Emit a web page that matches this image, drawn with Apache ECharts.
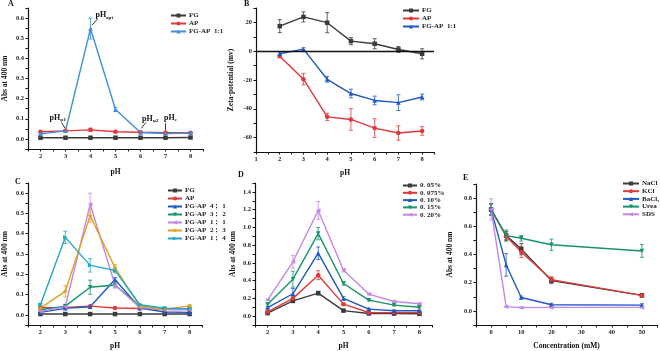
<!DOCTYPE html>
<html>
<head>
<meta charset="utf-8">
<script src="https://cdn.jsdelivr.net/npm/echarts@6/dist/echarts.min.js"></script>
<style>html,body{margin:0;padding:0;background:#fff}#c{width:660px;height:351px}</style>
</head>
<body>
<div id="c"></div>
<script>
// ---------- data ----------
const pH = [2, 3, 4, 5, 6, 7, 8];

// Panel A
const A_FG       = [0.006, 0.006, 0.006, 0.006, 0.006, 0.006, 0.007];
const A_FG_err   = [0.002, 0.002, 0.002, 0.002, 0.002, 0.002, 0.002];
const A_AP       = [0.036, 0.040, 0.045, 0.036, 0.033, 0.031, 0.031];
const A_AP_err   = [0.003, 0.003, 0.008, 0.003, 0.002, 0.002, 0.002];
const A_FGAP     = [0.025, 0.040, 0.548, 0.146, 0.032, 0.027, 0.029];
const A_FGAP_err = [0.004, 0.004, 0.052, 0.010, 0.003, 0.003, 0.003];

// Panel B
const B_FG       = [17.4, 23.8, 19.8, 7.0, 5.2, 1.2, -1.8];
const B_FG_err   = [4.5, 3.5, 7.0, 2.5, 3.5, 2.0, 3.5];
const B_AP       = [-3.5, -19.4, -45.6, -47.4, -53.4, -56.8, -55.4];
const B_AP_err   = [1.0, 4.0, 2.5, 7.5, 6.5, 5.0, 3.0];
const B_FGAP     = [-1.8, 1.4, -19.5, -29.4, -34.2, -35.7, -31.8];
const B_FGAP_err = [1.0, 1.0, 2.0, 3.0, 3.0, 5.5, 2.0];

// Panel C
const C_FG     = [0.004, 0.004, 0.004, 0.004, 0.004, 0.004, 0.004];
const C_AP     = [0.035, 0.037, 0.043, 0.034, 0.031, 0.029, 0.028];
const C_41     = [0.012, 0.032, 0.040, 0.174, 0.034, 0.014, 0.012];
const C_32     = [0.025, 0.043, 0.136, 0.147, 0.042, 0.030, 0.030];
const C_11     = [0.017, 0.040, 0.545, 0.147, 0.036, 0.025, 0.025];
const C_23     = [0.033, 0.116, 0.489, 0.233, 0.042, 0.027, 0.044];
const C_14     = [0.050, 0.382, 0.244, 0.219, 0.050, 0.033, 0.030];
const C_41_err = [0.003, 0.004, 0.006, 0.010, 0.003, 0.003, 0.003];
const C_32_err = [0.004, 0.006, 0.035, 0.010, 0.004, 0.003, 0.003];
const C_11_err = [0.003, 0.006, 0.055, 0.015, 0.004, 0.003, 0.003];
const C_23_err = [0.004, 0.028, 0.032, 0.015, 0.004, 0.003, 0.006];
const C_14_err = [0.006, 0.030, 0.033, 0.012, 0.005, 0.003, 0.003];

// Panel D
const D_005  = [0.034, 0.172, 0.259, 0.062, 0.030, 0.028, 0.026];
const D_0075 = [0.049, 0.200, 0.461, 0.135, 0.041, 0.040, 0.040];
const D_010  = [0.097, 0.252, 0.709, 0.200, 0.079, 0.060, 0.060];
const D_015  = [0.135, 0.416, 0.930, 0.368, 0.180, 0.124, 0.100];
const D_020  = [0.184, 0.612, 1.190, 0.518, 0.248, 0.165, 0.140];
const D_005_err  = [0.01, 0.02, 0.02, 0.01, 0.01, 0.01, 0.01];
const D_0075_err = [0.01, 0.02, 0.05, 0.01, 0.01, 0.01, 0.01];
const D_010_err  = [0.01, 0.06, 0.07, 0.02, 0.01, 0.01, 0.01];
const D_015_err  = [0.01, 0.09, 0.07, 0.02, 0.01, 0.01, 0.01];
const D_020_err  = [0.01, 0.07, 0.10, 0.02, 0.01, 0.01, 0.01];

// Panel E
const conc = [0, 5, 10, 20, 50];
const E_NaCl  = [0.719, 0.534, 0.438, 0.215, 0.110];
const E_KCl   = [0.720, 0.530, 0.418, 0.222, 0.110];
const E_BaCl2 = [0.720, 0.326, 0.095, 0.044, 0.041];
const E_Urea  = [0.720, 0.534, 0.515, 0.469, 0.425];
const E_SDS   = [0.720, 0.030, 0.023, 0.025, 0.025];
const E_NaCl_err  = [0.04, 0.03, 0.04, 0.02, 0.01];
const E_KCl_err   = [0.04, 0.03, 0.04, 0.02, 0.01];
const E_BaCl2_err = [0.04, 0.08, 0.01, 0.01, 0.01];
const E_Urea_err  = [0.04, 0.04, 0.02, 0.04, 0.045];
const E_SDS_err   = [0.075, 0.005, 0.005, 0.005, 0.005];

const legendA = ['FG', 'AP', 'FG-AP  1:1'];
const legendB = ['FG', 'AP', 'FG-AP  1:1'];
const legendC = ['FG', 'AP', 'FG-AP  4： 1', 'FG-AP  3： 2', 'FG-AP  1： 1', 'FG-AP  2： 3', 'FG-AP  1： 4'];
const legendD = ['0. 05%', '0. 075%', '0. 10%', '0. 15%', '0. 20%'];
const legendE = ['NaCl', 'KCl', 'BaCl₂', 'Urea', 'SDS'];

// ---------- styles ----------
const serif = "'Liberation Serif', 'DejaVu Serif', serif";
const COL = {
  gray: '#3b3b3b', red: '#e0393c', lblue: '#3d8fe0', blue: '#1f58c4',
  green: '#16946a', violet: '#c487e6', orange: '#e3a21f', cyan: '#1fa9c0'
};
const SYM = {
  sq: 'rect', ci: 'circle', tri: 'triangle',
  dtri: 'path://M0,0 L10,0 L5,10 Z',
  ltri: 'path://M10,0 L10,10 L0,5 Z',
  rtri: 'path://M0,0 L0,10 L10,5 Z',
  dia: 'diamond'
};

const series = [];
function addLine(panel, gi, label, xs, ys, errs, color, symbol, extra) {
  const name = panel + '|' + label;
  const s = {
    name, type: 'line', xAxisIndex: gi, yAxisIndex: gi,
    data: xs.map((x, i) => [x, ys[i]]),
    symbol, symbolSize: 4.5, showSymbol: true,
    lineStyle: { color, width: 1.4 },
    itemStyle: { color },
    z: 3
  };
  if (extra) Object.assign(s, extra);
  series.push(s);
  if (errs) {
    series.push({
      name: panel + '|err|' + label, type: 'custom', xAxisIndex: gi, yAxisIndex: gi,
      data: xs.map((x, i) => [x, ys[i] - errs[i], ys[i] + errs[i]]),
      itemStyle: { color }, z: 2, silent: true,
      renderItem: function (params, api) {
        const x = api.value(0);
        const p1 = api.coord([x, api.value(1)]);
        const p2 = api.coord([x, api.value(2)]);
        const st = { stroke: color, lineWidth: 0.8 };
        const c = 2;
        return { type: 'group', children: [
          { type: 'line', shape: { x1: p1[0], y1: p1[1], x2: p2[0], y2: p2[1] }, style: st },
          { type: 'line', shape: { x1: p1[0] - c, y1: p1[1], x2: p1[0] + c, y2: p1[1] }, style: st },
          { type: 'line', shape: { x1: p2[0] - c, y1: p2[1], x2: p2[0] + c, y2: p2[1] }, style: st }
        ]};
      }
    });
  }
}

// Annotations for panel A
const richSub = {
  a: { fontSize: 8, fontWeight: 'bold', fontFamily: serif, color: '#111', lineHeight: 9 },
  s: { fontSize: 5, fontWeight: 'bold', fontFamily: serif, color: '#111', lineHeight: 9, verticalAlign: 'bottom', padding: [4, 0, 0, 0] }
};
function ann(x, y, sub) {
  return { coord: [x, y], value: sub, label: { formatter: '{a|pH}{s|' + sub + '}' } };
}
const annA = {
  markPoint: {
    silent: true, symbol: 'circle', symbolSize: 1, itemStyle: { color: 'transparent' },
    label: { show: true, position: 'inside', rich: richSub },
    data: [ann(4.55, 0.614, 'opt'), ann(2.69, 0.104, 'φ1'), ann(6.39, 0.100, 'φ2'), ann(7.2, 0.104, 'c')]
  },
  markLine: {
    silent: true, symbol: ['none', 'arrow'], symbolSize: [0, 4],
    lineStyle: { color: '#000', width: 0.8, type: 'solid' }, label: { show: false },
    data: [
      [{ coord: [4.28, 0.595] }, { coord: [4.06, 0.565] }],
      [{ coord: [2.84, 0.082] }, { coord: [2.98, 0.053] }],
      [{ coord: [6.22, 0.082] }, { coord: [6.03, 0.053] }],
      [{ coord: [7.0, 0.078] }, { coord: [7.0, 0.042] }]
    ]
  }
};

addLine('A', 0, legendA[0], pH, A_FG, A_FG_err, COL.gray, SYM.sq);
addLine('A', 0, legendA[1], pH, A_AP, A_AP_err, COL.red, SYM.ci);
addLine('A', 0, legendA[2], pH, A_FGAP, A_FGAP_err, COL.lblue, SYM.tri, annA);

addLine('B', 1, legendB[0], pH, B_FG, B_FG_err, COL.gray, SYM.sq, {
  markLine: { silent: true, symbol: ['none', 'none'], label: { show: false },
    lineStyle: { color: '#111', width: 1.3, type: 'solid' }, data: [{ yAxis: 0 }] }
});
addLine('B', 1, legendB[1], pH, B_AP, B_AP_err, COL.red, SYM.ci);
addLine('B', 1, legendB[2], pH, B_FGAP, B_FGAP_err, COL.blue, SYM.tri);

addLine('C', 2, legendC[0], pH, C_FG, null, COL.gray, SYM.sq);
addLine('C', 2, legendC[1], pH, C_AP, null, COL.red, SYM.ci);
addLine('C', 2, legendC[2], pH, C_41, C_41_err, COL.blue, SYM.tri);
addLine('C', 2, legendC[3], pH, C_32, C_32_err, COL.green, SYM.dtri);
addLine('C', 2, legendC[4], pH, C_11, C_11_err, COL.violet, SYM.ltri);
addLine('C', 2, legendC[5], pH, C_23, C_23_err, COL.orange, SYM.dia);
addLine('C', 2, legendC[6], pH, C_14, C_14_err, COL.cyan, SYM.rtri);

addLine('D', 3, legendD[0], pH, D_005, D_005_err, COL.gray, SYM.sq);
addLine('D', 3, legendD[1], pH, D_0075, D_0075_err, COL.red, SYM.ci);
addLine('D', 3, legendD[2], pH, D_010, D_010_err, COL.blue, SYM.tri);
addLine('D', 3, legendD[3], pH, D_015, D_015_err, COL.green, SYM.dtri);
addLine('D', 3, legendD[4], pH, D_020, D_020_err, COL.violet, SYM.ltri);

addLine('E', 4, legendE[0], conc, E_NaCl, E_NaCl_err, COL.gray, SYM.sq);
addLine('E', 4, legendE[1], conc, E_KCl, E_KCl_err, COL.red, SYM.ci);
addLine('E', 4, legendE[2], conc, E_BaCl2, E_BaCl2_err, COL.blue, SYM.tri);
addLine('E', 4, legendE[3], conc, E_Urea, E_Urea_err, COL.green, SYM.dtri);
addLine('E', 4, legendE[4], conc, E_SDS, E_SDS_err, COL.violet, SYM.ltri);

// ---------- axes ----------
const tickFont = { fontSize: 6.5, fontWeight: 'bold', fontFamily: serif, color: '#222' };
const nameFont = { fontSize: 7.5, fontWeight: 'bold', fontFamily: serif, color: '#111' };
function axis(gi, o) {
  return Object.assign({
    gridIndex: gi, type: 'value', splitLine: { show: false },
    axisLine: { show: true, onZero: false, lineStyle: { color: '#111', width: 1.2 } },
    axisTick: { show: true, length: 2.5, lineStyle: { color: '#111', width: 1 } },
    nameLocation: 'middle', nameTextStyle: nameFont
  }, o);
}
const pHLabel = v => (Number.isInteger(v) && v >= 1 && v <= 8) ? String(v) : '';
function decLabel(step, lo, hi) {
  return v => {
    const k = Math.round(v * 100);
    const st = Math.round(step * 100);
    return (k % st === 0 && k >= lo * 100 - 0.5 && k <= hi * 100 + 0.5) ? (k / 100).toFixed(1) : '';
  };
}

const xAxis = [
  axis(0, { min: 1.5, max: 8.5, interval: 0.5, name: 'pH', nameGap: 19, axisLabel: Object.assign({ margin: 4, formatter: pHLabel }, tickFont) }),
  axis(1, { min: 1, max: 8.5, interval: 0.5, name: 'pH', nameGap: 17, axisLabel: Object.assign({ margin: 4, formatter: pHLabel }, tickFont) }),
  axis(2, { min: 1.5, max: 8.5, interval: 0.5, name: 'pH', nameGap: 17, axisLabel: Object.assign({ margin: 4, formatter: pHLabel }, tickFont) }),
  axis(3, { min: 1.5, max: 8.5, interval: 0.5, name: 'pH', nameGap: 17, axisLabel: Object.assign({ margin: 4, formatter: pHLabel }, tickFont) }),
  axis(4, { min: -5, max: 55, interval: 5, name: 'Concentration (mM)', nameGap: 17,
    axisLabel: Object.assign({ margin: 4, formatter: v => (v % 10 === 0 && v >= 0 && v <= 50) ? String(v) : '' }, tickFont) })
];
const yAxis = [
  axis(0, { min: -0.05, max: 0.65, interval: 0.05, name: 'Abs at 400 nm', nameGap: 19, axisLabel: Object.assign({ margin: 4, formatter: decLabel(0.1, 0, 0.6) }, tickFont) }),
  axis(1, { min: -70, max: 30, interval: 10, name: 'Zeta-potential (mv)', nameGap: 21,
    axisLabel: Object.assign({ margin: 4, formatter: v => (v % 20 === 0 && v >= -60 && v <= 20) ? String(v) : '' }, tickFont) }),
  axis(2, { min: -0.05, max: 0.65, interval: 0.05, name: 'Abs at 400 nm', nameGap: 19, axisLabel: Object.assign({ margin: 4, formatter: decLabel(0.1, 0, 0.6) }, tickFont) }),
  axis(3, { min: -0.1, max: 1.5, interval: 0.1, name: 'Abs at 400 nm', nameGap: 18, axisLabel: Object.assign({ margin: 4, formatter: decLabel(0.2, 0, 1.4) }, tickFont) }),
  axis(4, { min: -0.1, max: 0.9, interval: 0.1, name: 'Abs at 400 nm', nameGap: 22, axisLabel: Object.assign({ margin: 4, formatter: decLabel(0.2, 0, 0.8) }, tickFont) })
];

const grid = [
  { left: 27, top: 8, width: 176, height: 141 },
  { left: 256, top: 8, width: 178, height: 144 },
  { left: 27, top: 183, width: 175, height: 143 },
  { left: 255, top: 183, width: 177, height: 144 },
  { left: 476, top: 184, width: 181, height: 144 }
];

function legend(panel, names, left, top, gap, iw) {
  return {
    data: names.map(n => panel + '|' + n), left, top, orient: 'vertical', padding: 0,
    itemWidth: iw || 16, itemHeight: 5, itemGap: gap, selectedMode: false,
    formatter: n => n.split('|')[1],
    textStyle: { fontSize: 7, lineHeight: 7, fontWeight: 'bold', fontFamily: serif, color: '#222', padding: [0, 0, 0, -2] }
  };
}
const titleFont = { fontSize: 8, fontWeight: 'bold', fontFamily: serif, color: '#111' };
const option = {
  animation: false,
  backgroundColor: '#fff',
  title: [
    { text: 'A', left: 8, top: 0, padding: 0, textStyle: titleFont },
    { text: 'B', left: 244, top: 0, padding: 0, textStyle: titleFont },
    { text: 'C', left: 15, top: 178, padding: 0, textStyle: titleFont },
    { text: 'D', left: 238, top: 171, padding: 0, textStyle: titleFont },
    { text: 'E', left: 463, top: 174, padding: 0, textStyle: titleFont }
  ],
  legend: [
    legend('A', legendA, 170, 12, 1, 15),
    legend('B', legendB, 402, 7, 1, 16),
    legend('C', legendC, 167, 187, 1, 14),
    legend('D', legendD, 402, 182, 0.3, 14),
    legend('E', legendE, 622, 180, 0.7, 16)
  ],
  grid, xAxis, yAxis, series
};
const chart = echarts.init(document.getElementById('c'), null, { renderer: 'canvas' });
chart.setOption(option);
</script>
</body>
</html>
